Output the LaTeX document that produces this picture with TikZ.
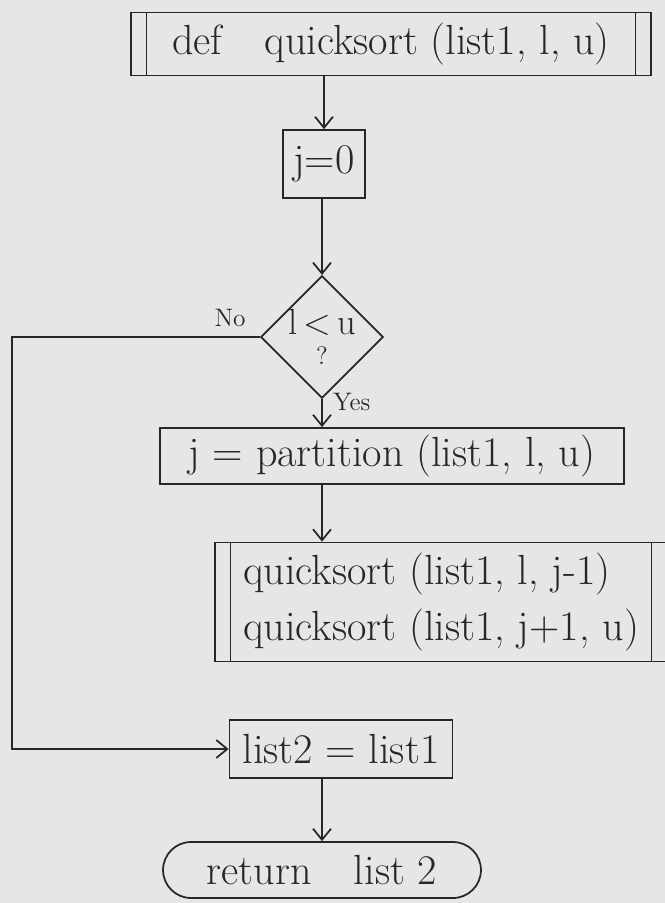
\documentclass[tikz,border=0pt]{standalone}
\usepackage{amsmath,amssymb}
\usepackage{xcolor}
\usepackage{tikz}
\usetikzlibrary{arrows.meta, shapes.geometric, shapes.misc}
\definecolor{qspaper}{RGB}{230,230,228}
\definecolor{qsink}{RGB}{38,38,46}

\tikzset{
  qsbox/.style={draw=qsink, line width=1pt, text=qsink, font=\fontsize{24}{30}\selectfont, inner sep=2pt},
  qssub/.style={qsbox, path picture={
      \draw[qsink, line width=1pt]
        ([xshift=0.31cm]path picture bounding box.north west) -- ([xshift=0.31cm]path picture bounding box.south west)
        ([xshift=-0.31cm]path picture bounding box.north east) -- ([xshift=-0.31cm]path picture bounding box.south east);}},
  qsdec/.style={qsbox, diamond, inner sep=0pt, font=\huge},
  qsend/.style={qsbox, rounded rectangle},
  qsarr/.style={draw=qsink, line width=1pt, -{Straight Barb[length=2.2mm, width=3.6mm]}},
  qslbl/.style={text=qsink, font=\Large}
}

\begin{document}
\begin{tikzpicture}[x=0.02cm, y=-0.02cm]
% paper
\fill[qspaper] (0,0) rectangle (665,903);
\useasboundingbox (0,0) rectangle (665,903);

% header
\node[qssub, minimum width=10.4cm, minimum height=1.26cm] (top) at (391,44) {def\quad quicksort (list1,\ l, u)};

% init
\node[qsbox, minimum width=1.64cm, minimum height=1.36cm] (j0) at (324,164) {j=0};

% test
\node[qsdec, minimum width=2.24cm, minimum height=2.06cm] (dec) at (322,337) {\shortstack{l\,<\,u\\[3pt]{\Large ?}}};
\node[qslbl] (no) at (230,318) {No};
\node[qslbl, anchor=west] (yes) at (327,402) {Yes};

% partition
\node[qsbox, minimum width=9.28cm, minimum height=1.12cm] (part) at (392,456) {j = partition\ (list1,\ l, u)};

% recursive calls
\node[qssub, align=left, minimum width=9.04cm, minimum height=2.38cm] (qs) at (441,602) {quicksort (list1, l, j-1)\\[2pt]quicksort\ (list1, j+1, u)};

% copy
\node[qsbox, minimum width=4.46cm, minimum height=1.16cm] (copy) at (341,749) {list2 = list1};
\coordinate (loopx) at (12,0);

% end
\node[qsend, minimum width=6.5cm, minimum height=1.12cm] (ret) at (322,870) {return\quad list 2};

% arrows
\draw[qsarr] (top.south -| j0.north) -- (j0.north);
\draw[qsarr] (j0.south -| dec.north) -- (dec.north);
\draw[qsarr] (dec.south) -- (dec.south |- part.north);
\draw[qsarr] (dec.south |- part.south) -- (dec.south |- qs.north);
\draw[qsarr] (dec.west) -- (dec.west -| loopx) |- (copy.west);
\draw[qsarr] (ret.north |- copy.south) -- (ret.north);
\end{tikzpicture}
\end{document}
